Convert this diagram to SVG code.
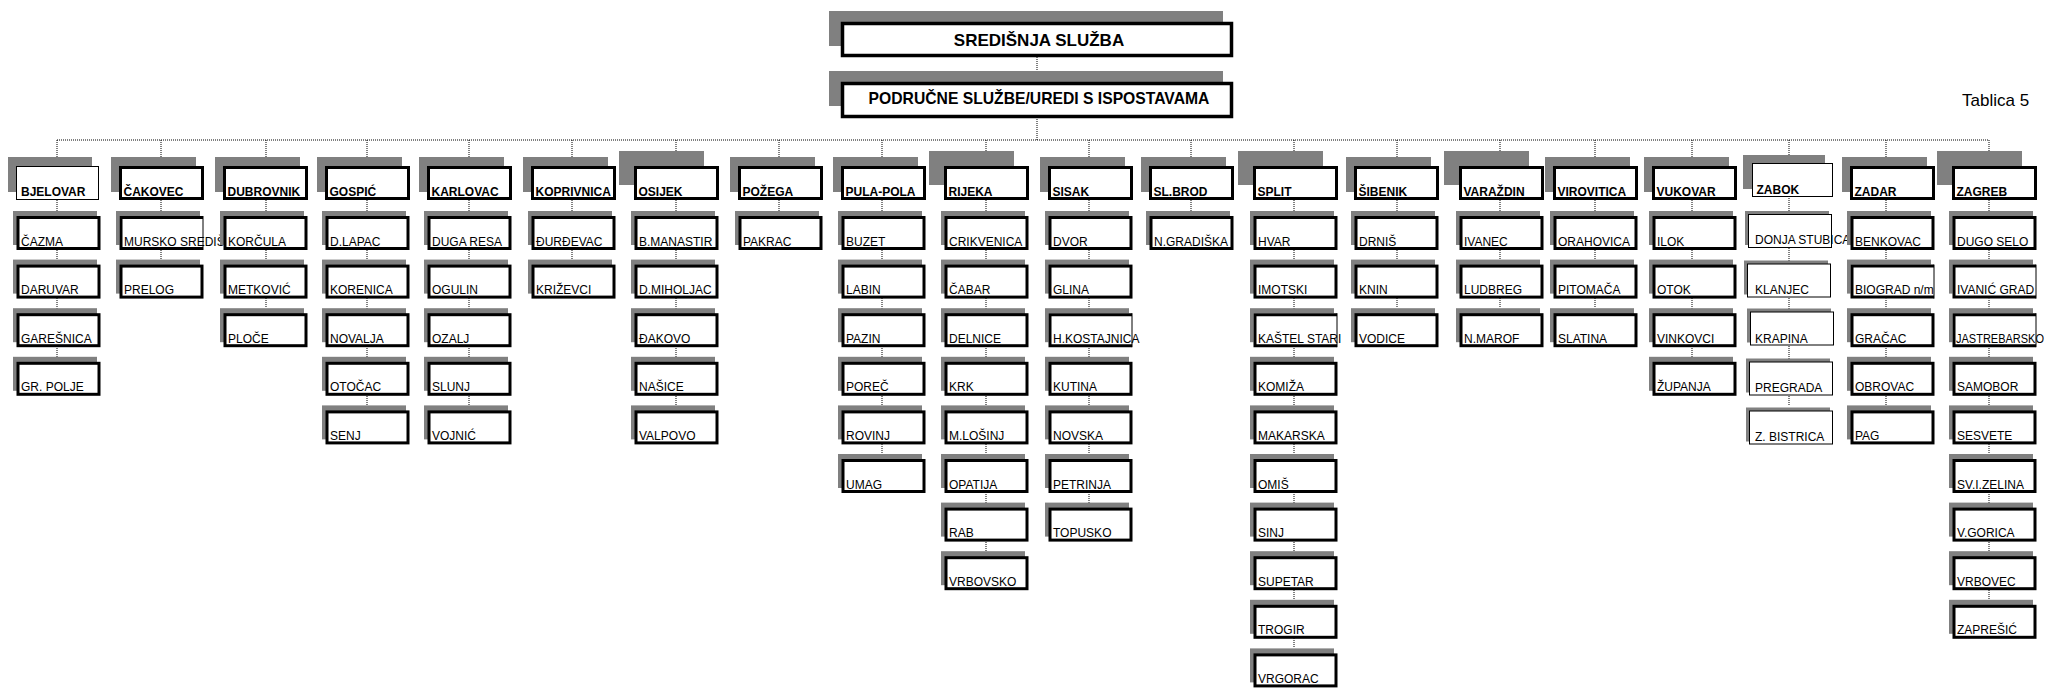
<svg xmlns="http://www.w3.org/2000/svg" xmlns:xlink="http://www.w3.org/1999/xlink" width="2053" height="688" viewBox="0 0 2053 688">
<style>
.sh{fill:#808080}
.bx{fill:#fff;stroke:#000;stroke-width:3}
.bt{fill:#fff;stroke:#000;stroke-width:1}
.bm{fill:#fff;stroke:#000;stroke-width:3.5}
.nf{fill:#fff;stroke:none}
.th{fill:none;stroke:#000;stroke-width:3}
.tl{fill:none;stroke:#000;stroke-width:1}
.hd{font-family:"Liberation Sans",Arial,sans-serif;font-weight:bold;font-size:12px;fill:#000}
.ch{font-family:"Liberation Sans",Arial,sans-serif;font-size:12px;fill:#000}
.tt{font-family:"Liberation Sans",Arial,sans-serif;font-weight:bold;fill:#000;text-anchor:middle}
.cn{fill:none;stroke:#000;stroke-width:1;stroke-dasharray:1 1}
</style>
<defs>
<g id="cb"><rect class="sh" x="-3" y="-5" width="84" height="34"/><rect class="bx" x="2" y="1.5" width="81" height="31"/></g>
<g id="cbr"><rect class="sh" x="-3" y="-5" width="84" height="34"/><rect class="nf" x="0.5" y="0" width="84" height="34"/><path class="th" d="M84 1.5H2V32.5H84"/><line class="tl" x1="84" y1="0" x2="84" y2="34"/></g>
<g id="cbt"><rect class="sh" x="-3" y="-3" width="84" height="34"/><rect class="bt" x="0.5" y="0.5" width="83" height="33"/></g>
<g id="hb"><rect class="sh" x="-8" y="157" width="85" height="35"/><rect class="bx" x="1.5" y="167.5" width="82" height="31"/></g>
<g id="hbb"><rect class="sh" x="-15" y="151" width="85" height="34"/><rect class="bx" x="1.5" y="167.5" width="82" height="31"/></g>
</defs>
<rect width="2053" height="688" fill="#fff"/>
<g id="connectors">
<path class="cn" d="M1037 57V140M57 140H1989"/>
<path class="cn" d="M57 140V357M161 140V260M266 140V308M367 140V405M469 140V405M572 140V260M676 140V405M779 140V211M882 140V454M986 140V551M1089 140V503M1191 140V211M1294 140V648M1397 140V308M1500 140V308M1595 140V308M1692 140V357M1789 140V405M1886 140V405M1989 140V600"/>
</g>
<g id="n-sredisnja">
<rect class="sh" x="829" y="11" width="394" height="35"/>
<rect class="bm" x="842.5" y="23.5" width="389" height="32"/>
<text class="tt" x="1039" y="46" font-size="17">SREDIŠNJA SLUŽBA</text>
</g>
<g id="n-podrucne">
<rect class="sh" x="829" y="71" width="394" height="35"/>
<rect class="bm" x="842.5" y="83.5" width="389" height="33"/>
<text class="tt" x="1039" y="104" font-size="15.7">PODRUČNE SLUŽBE/UREDI S ISPOSTAVAMA</text>
</g>
<text id="tablica" x="1962" y="106" font-family="Liberation Sans, Arial, sans-serif" font-size="17" fill="#000">Tablica 5</text>

<!-- Column 1 BJELOVAR -->
<g id="h-bjelovar" transform="translate(16,0)"><rect class="sh" x="-8" y="157" width="84" height="35"/><rect class="bt" x="0.5" y="166.5" width="82" height="33"/><text class="hd" x="5" y="196">BJELOVAR</text></g>
<g id="c-cazma" transform="translate(16,216)"><use xlink:href="#cb"/><text class="ch" x="5" y="29.5">ČAZMA</text></g>
<g id="c-daruvar" transform="translate(16,264.6)"><use xlink:href="#cb"/><text class="ch" x="5" y="29.5">DARUVAR</text></g>
<g id="c-garesnica" transform="translate(16,313.2)"><use xlink:href="#cb"/><text class="ch" x="5" y="29.5">GAREŠNICA</text></g>
<g id="c-grpolje" transform="translate(16,361.8)"><use xlink:href="#cb"/><text class="ch" x="5" y="29.5">GR. POLJE</text></g>

<!-- Column 2 CAKOVEC -->
<g id="h-cakovec" transform="translate(119,0)"><use xlink:href="#hb"/><text class="hd" x="4.5" y="196">ČAKOVEC</text></g>
<g id="c-mursko" transform="translate(119,216)"><use xlink:href="#cbr"/><text class="ch" x="5" y="29.5">MURSKO SREDIŠ</text></g>
<g id="c-prelog" transform="translate(119,264.6)"><use xlink:href="#cb"/><text class="ch" x="5" y="29.5">PRELOG</text></g>

<!-- Column 3 DUBROVNIK -->
<g id="h-dubrovnik" transform="translate(223,0)"><use xlink:href="#hb"/><text class="hd" x="4.5" y="196">DUBROVNIK</text></g>
<g id="c-korcula" transform="translate(223,216)"><use xlink:href="#cb"/><text class="ch" x="5" y="29.5">KORČULA</text></g>
<g id="c-metkovic" transform="translate(223,264.6)"><use xlink:href="#cb"/><text class="ch" x="5" y="29.5">METKOVIĆ</text></g>
<g id="c-ploce" transform="translate(223,313.2)"><use xlink:href="#cb"/><text class="ch" x="5" y="29.5">PLOČE</text></g>

<!-- Column 4 GOSPIC -->
<g id="h-gospic" transform="translate(325,0)"><use xlink:href="#hb"/><text class="hd" x="4.5" y="196">GOSPIĆ</text></g>
<g id="c-dlapac" transform="translate(325,216)"><use xlink:href="#cb"/><text class="ch" x="5" y="29.5">D.LAPAC</text></g>
<g id="c-korenica" transform="translate(325,264.6)"><use xlink:href="#cb"/><text class="ch" x="5" y="29.5">KORENICA</text></g>
<g id="c-novalja" transform="translate(325,313.2)"><use xlink:href="#cb"/><text class="ch" x="5" y="29.5">NOVALJA</text></g>
<g id="c-otocac" transform="translate(325,361.8)"><use xlink:href="#cb"/><text class="ch" x="5" y="29.5">OTOČAC</text></g>
<g id="c-senj" transform="translate(325,410.4)"><use xlink:href="#cb"/><text class="ch" x="5" y="29.5">SENJ</text></g>

<!-- Column 5 KARLOVAC -->
<g id="h-karlovac" transform="translate(427,0)"><use xlink:href="#hb"/><text class="hd" x="4.5" y="196">KARLOVAC</text></g>
<g id="c-dugaresa" transform="translate(427,216)"><use xlink:href="#cb"/><text class="ch" x="5" y="29.5">DUGA RESA</text></g>
<g id="c-ogulin" transform="translate(427,264.6)"><use xlink:href="#cb"/><text class="ch" x="5" y="29.5">OGULIN</text></g>
<g id="c-ozalj" transform="translate(427,313.2)"><use xlink:href="#cb"/><text class="ch" x="5" y="29.5">OZALJ</text></g>
<g id="c-slunj" transform="translate(427,361.8)"><use xlink:href="#cb"/><text class="ch" x="5" y="29.5">SLUNJ</text></g>
<g id="c-vojnic" transform="translate(427,410.4)"><use xlink:href="#cb"/><text class="ch" x="5" y="29.5">VOJNIĆ</text></g>

<!-- Column 6 KOPRIVNICA -->
<g id="h-koprivnica" transform="translate(531,0)"><use xlink:href="#hb"/><text class="hd" x="4.5" y="196">KOPRIVNICA</text></g>
<g id="c-djurdjevac" transform="translate(531,216)"><use xlink:href="#cb"/><text class="ch" x="5" y="29.5">ĐURĐEVAC</text></g>
<g id="c-krizevci" transform="translate(531,264.6)"><use xlink:href="#cb"/><text class="ch" x="5" y="29.5">KRIŽEVCI</text></g>

<!-- Column 7 OSIJEK -->
<g id="h-osijek" transform="translate(634,0)"><use xlink:href="#hbb"/><text class="hd" x="4.5" y="196">OSIJEK</text></g>
<g id="c-bmanastir" transform="translate(634,216)"><use xlink:href="#cb"/><text class="ch" x="5" y="29.5">B.MANASTIR</text></g>
<g id="c-dmiholjac" transform="translate(634,264.6)"><use xlink:href="#cb"/><text class="ch" x="5" y="29.5">D.MIHOLJAC</text></g>
<g id="c-djakovo" transform="translate(634,313.2)"><use xlink:href="#cb"/><text class="ch" x="5" y="29.5">ĐAKOVO</text></g>
<g id="c-nasice" transform="translate(634,361.8)"><use xlink:href="#cb"/><text class="ch" x="5" y="29.5">NAŠICE</text></g>
<g id="c-valpovo" transform="translate(634,410.4)"><use xlink:href="#cb"/><text class="ch" x="5" y="29.5">VALPOVO</text></g>

<!-- Column 8 POZEGA -->
<g id="h-pozega" transform="translate(738,0)"><use xlink:href="#hb"/><text class="hd" x="4.5" y="196">POŽEGA</text></g>
<g id="c-pakrac" transform="translate(738,216)"><use xlink:href="#cb"/><text class="ch" x="5" y="29.5">PAKRAC</text></g>

<!-- Column 9 PULA-POLA -->
<g id="h-pula" transform="translate(841,0)"><use xlink:href="#hb"/><text class="hd" x="4.5" y="196">PULA-POLA</text></g>
<g id="c-buzet" transform="translate(841,216)"><use xlink:href="#cb"/><text class="ch" x="5" y="29.5">BUZET</text></g>
<g id="c-labin" transform="translate(841,264.6)"><use xlink:href="#cb"/><text class="ch" x="5" y="29.5">LABIN</text></g>
<g id="c-pazin" transform="translate(841,313.2)"><use xlink:href="#cb"/><text class="ch" x="5" y="29.5">PAZIN</text></g>
<g id="c-porec" transform="translate(841,361.8)"><use xlink:href="#cb"/><text class="ch" x="5" y="29.5">POREČ</text></g>
<g id="c-rovinj" transform="translate(841,410.4)"><use xlink:href="#cb"/><text class="ch" x="5" y="29.5">ROVINJ</text></g>
<g id="c-umag" transform="translate(841,459)"><use xlink:href="#cb"/><text class="ch" x="5" y="29.5">UMAG</text></g>

<!-- Column 10 RIJEKA -->
<g id="h-rijeka" transform="translate(944,0)"><use xlink:href="#hbb"/><text class="hd" x="4.5" y="196">RIJEKA</text></g>
<g id="c-crikvenica" transform="translate(944,216)"><use xlink:href="#cb"/><text class="ch" x="5" y="29.5">CRIKVENICA</text></g>
<g id="c-cabar" transform="translate(944,264.6)"><use xlink:href="#cb"/><text class="ch" x="5" y="29.5">ČABAR</text></g>
<g id="c-delnice" transform="translate(944,313.2)"><use xlink:href="#cb"/><text class="ch" x="5" y="29.5">DELNICE</text></g>
<g id="c-krk" transform="translate(944,361.8)"><use xlink:href="#cb"/><text class="ch" x="5" y="29.5">KRK</text></g>
<g id="c-mlosinj" transform="translate(944,410.4)"><use xlink:href="#cb"/><text class="ch" x="5" y="29.5">M.LOŠINJ</text></g>
<g id="c-opatija" transform="translate(944,459)"><use xlink:href="#cb"/><text class="ch" x="5" y="29.5">OPATIJA</text></g>
<g id="c-rab" transform="translate(944,507.6)"><use xlink:href="#cb"/><text class="ch" x="5" y="29.5">RAB</text></g>
<g id="c-vrbovsko" transform="translate(944,556.2)"><use xlink:href="#cb"/><text class="ch" x="5" y="29.5">VRBOVSKO</text></g>

<!-- Column 11 SISAK -->
<g id="h-sisak" transform="translate(1048,0)"><use xlink:href="#hb"/><text class="hd" x="4.5" y="196">SISAK</text></g>
<g id="c-dvor" transform="translate(1048,216)"><use xlink:href="#cb"/><text class="ch" x="5" y="29.5">DVOR</text></g>
<g id="c-glina" transform="translate(1048,264.6)"><use xlink:href="#cb"/><text class="ch" x="5" y="29.5">GLINA</text></g>
<g id="c-hkostajnica" transform="translate(1048,313.2)"><use xlink:href="#cbr"/><text class="ch" x="5" y="29.5">H.KOSTAJNICA</text></g>
<g id="c-kutina" transform="translate(1048,361.8)"><use xlink:href="#cb"/><text class="ch" x="5" y="29.5">KUTINA</text></g>
<g id="c-novska" transform="translate(1048,410.4)"><use xlink:href="#cb"/><text class="ch" x="5" y="29.5">NOVSKA</text></g>
<g id="c-petrinja" transform="translate(1048,459)"><use xlink:href="#cb"/><text class="ch" x="5" y="29.5">PETRINJA</text></g>
<g id="c-topusko" transform="translate(1048,507.6)"><use xlink:href="#cb"/><text class="ch" x="5" y="29.5">TOPUSKO</text></g>

<!-- Column 12 SL.BROD -->
<g id="h-slbrod" transform="translate(1149,0)"><use xlink:href="#hb"/><text class="hd" x="4.5" y="196">SL.BROD</text></g>
<g id="c-ngradiska" transform="translate(1149,216)"><use xlink:href="#cb"/><text class="ch" x="5" y="29.5">N.GRADIŠKA</text></g>

<!-- Column 13 SPLIT -->
<g id="h-split" transform="translate(1253,0)"><use xlink:href="#hbb"/><text class="hd" x="4.5" y="196">SPLIT</text></g>
<g id="c-hvar" transform="translate(1253,216)"><use xlink:href="#cb"/><text class="ch" x="5" y="29.5">HVAR</text></g>
<g id="c-imotski" transform="translate(1253,264.6)"><use xlink:href="#cb"/><text class="ch" x="5" y="29.5">IMOTSKI</text></g>
<g id="c-kastelstari" transform="translate(1253,313.2)"><use xlink:href="#cbr"/><text class="ch" x="5" y="29.5">KAŠTEL STARI</text></g>
<g id="c-komiza" transform="translate(1253,361.8)"><use xlink:href="#cb"/><text class="ch" x="5" y="29.5">KOMIŽA</text></g>
<g id="c-makarska" transform="translate(1253,410.4)"><use xlink:href="#cb"/><text class="ch" x="5" y="29.5">MAKARSKA</text></g>
<g id="c-omis" transform="translate(1253,459)"><use xlink:href="#cb"/><text class="ch" x="5" y="29.5">OMIŠ</text></g>
<g id="c-sinj" transform="translate(1253,507.6)"><use xlink:href="#cb"/><text class="ch" x="5" y="29.5">SINJ</text></g>
<g id="c-supetar" transform="translate(1253,556.2)"><use xlink:href="#cb"/><text class="ch" x="5" y="29.5">SUPETAR</text></g>
<g id="c-trogir" transform="translate(1253,604.8)"><use xlink:href="#cb"/><text class="ch" x="5" y="29.5">TROGIR</text></g>
<g id="c-vrgorac" transform="translate(1253,653.4)"><use xlink:href="#cb"/><text class="ch" x="5" y="29.5">VRGORAC</text></g>

<!-- Column 14 SIBENIK -->
<g id="h-sibenik" transform="translate(1354,0)"><use xlink:href="#hb"/><text class="hd" x="4.5" y="196">ŠIBENIK</text></g>
<g id="c-drnis" transform="translate(1354,216)"><use xlink:href="#cb"/><text class="ch" x="5" y="29.5">DRNIŠ</text></g>
<g id="c-knin" transform="translate(1354,264.6)"><use xlink:href="#cb"/><text class="ch" x="5" y="29.5">KNIN</text></g>
<g id="c-vodice" transform="translate(1354,313.2)"><use xlink:href="#cb"/><text class="ch" x="5" y="29.5">VODICE</text></g>

<!-- Column 15 VARAZDIN -->
<g id="h-varazdin" transform="translate(1459,0)"><use xlink:href="#hbb"/><text class="hd" x="4.5" y="196">VARAŽDIN</text></g>
<g id="c-ivanec" transform="translate(1459,216)"><use xlink:href="#cb"/><text class="ch" x="5" y="29.5">IVANEC</text></g>
<g id="c-ludbreg" transform="translate(1459,264.6)"><use xlink:href="#cb"/><text class="ch" x="5" y="29.5">LUDBREG</text></g>
<g id="c-nmarof" transform="translate(1459,313.2)"><use xlink:href="#cb"/><text class="ch" x="5" y="29.5">N.MAROF</text></g>

<!-- Column 16 VIROVITICA -->
<g id="h-virovitica" transform="translate(1553,0)"><use xlink:href="#hb"/><text class="hd" x="4.5" y="196">VIROVITICA</text></g>
<g id="c-orahovica" transform="translate(1553,216)"><use xlink:href="#cb"/><text class="ch" x="5" y="29.5">ORAHOVICA</text></g>
<g id="c-pitomaca" transform="translate(1553,264.6)"><use xlink:href="#cb"/><text class="ch" x="5" y="29.5">PITOMAČA</text></g>
<g id="c-slatina" transform="translate(1553,313.2)"><use xlink:href="#cb"/><text class="ch" x="5" y="29.5">SLATINA</text></g>

<!-- Column 17 VUKOVAR -->
<g id="h-vukovar" transform="translate(1652,0)"><use xlink:href="#hb"/><text class="hd" x="4.5" y="196">VUKOVAR</text></g>
<g id="c-ilok" transform="translate(1652,216)"><use xlink:href="#cb"/><text class="ch" x="5" y="29.5">ILOK</text></g>
<g id="c-otok" transform="translate(1652,264.6)"><use xlink:href="#cb"/><text class="ch" x="5" y="29.5">OTOK</text></g>
<g id="c-vinkovci" transform="translate(1652,313.2)"><use xlink:href="#cb"/><text class="ch" x="5" y="29.5">VINKOVCI</text></g>
<g id="c-zupanja" transform="translate(1652,361.8)"><use xlink:href="#cb"/><text class="ch" x="5" y="29.5">ŽUPANJA</text></g>

<!-- Column 18 ZABOK -->
<g id="h-zabok" transform="translate(1752,0)"><rect class="sh" x="-9" y="155" width="82" height="34"/><rect class="bt" x="0.5" y="163.5" width="80" height="33"/><text class="hd" x="4.5" y="194">ZABOK</text></g>
<g id="c-donjastubica" transform="translate(1748,214)"><use xlink:href="#cbt"/><text class="ch" x="7" y="30">DONJA STUBICA</text></g>
<g id="c-klanjec" transform="translate(1747,263.5)"><use xlink:href="#cbt"/><text class="ch" x="8" y="30">KLANJEC</text></g>
<g id="c-krapina" transform="translate(1750,311.5)"><use xlink:href="#cbt"/><text class="ch" x="5" y="31">KRAPINA</text></g>
<g id="c-pregrada" transform="translate(1749,361.5)"><use xlink:href="#cbt"/><text class="ch" x="6" y="30">PREGRADA</text></g>
<g id="c-zbistrica" transform="translate(1749,410.5)"><use xlink:href="#cbt"/><text class="ch" x="6" y="30">Z. BISTRICA</text></g>

<!-- Column 19 ZADAR -->
<g id="h-zadar" transform="translate(1850,0)"><use xlink:href="#hb"/><text class="hd" x="4.5" y="196">ZADAR</text></g>
<g id="c-benkovac" transform="translate(1850,216)"><use xlink:href="#cb"/><text class="ch" x="5" y="29.5">BENKOVAC</text></g>
<g id="c-biograd" transform="translate(1850,264.6)"><use xlink:href="#cbr"/><text class="ch" x="5" y="29.5">BIOGRAD n/m</text></g>
<g id="c-gracac" transform="translate(1850,313.2)"><use xlink:href="#cb"/><text class="ch" x="5" y="29.5">GRAČAC</text></g>
<g id="c-obrovac" transform="translate(1850,361.8)"><use xlink:href="#cb"/><text class="ch" x="5" y="29.5">OBROVAC</text></g>
<g id="c-pag" transform="translate(1850,410.4)"><use xlink:href="#cb"/><text class="ch" x="5" y="29.5">PAG</text></g>

<!-- Column 20 ZAGREB -->
<g id="h-zagreb" transform="translate(1952,0)"><use xlink:href="#hbb"/><text class="hd" x="4.5" y="196">ZAGREB</text></g>
<g id="c-dugoselo" transform="translate(1952,216)"><use xlink:href="#cb"/><text class="ch" x="5" y="29.5">DUGO SELO</text></g>
<g id="c-ivanicgrad" transform="translate(1952,264.6)"><use xlink:href="#cbr"/><text class="ch" x="5" y="29.5">IVANIĆ GRAD</text></g>
<g id="c-jastrebarsko" transform="translate(1952,313.2)"><use xlink:href="#cbr"/><text class="ch" x="4" y="29.5" textLength="88" lengthAdjust="spacingAndGlyphs">JASTREBARSKO</text></g>
<g id="c-samobor" transform="translate(1952,361.8)"><use xlink:href="#cb"/><text class="ch" x="5" y="29.5">SAMOBOR</text></g>
<g id="c-sesvete" transform="translate(1952,410.4)"><use xlink:href="#cb"/><text class="ch" x="5" y="29.5">SESVETE</text></g>
<g id="c-svizelina" transform="translate(1952,459)"><use xlink:href="#cb"/><text class="ch" x="5" y="29.5">SV.I.ZELINA</text></g>
<g id="c-vgorica" transform="translate(1952,507.6)"><use xlink:href="#cb"/><text class="ch" x="5" y="29.5">V.GORICA</text></g>
<g id="c-vrbovec" transform="translate(1952,556.2)"><use xlink:href="#cb"/><text class="ch" x="5" y="29.5">VRBOVEC</text></g>
<g id="c-zapresic" transform="translate(1952,604.8)"><use xlink:href="#cb"/><text class="ch" x="5" y="29.5">ZAPREŠIĆ</text></g>
</svg>
